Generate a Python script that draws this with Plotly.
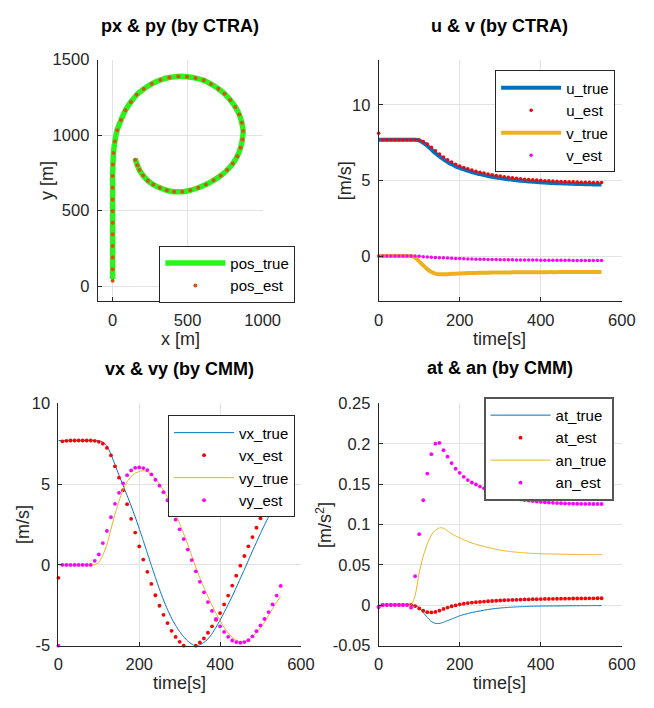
import plotly.graph_objects as go

# ---------------- data ----------------
t = [0, 10, 20, 30, 40, 50, 60, 70, 80, 90,
     100, 110, 120, 130, 140, 150, 160, 170, 180, 190,
     200, 210, 220, 230, 240, 250, 260, 270, 280, 290,
     300, 310, 320, 330, 340, 350, 360, 370, 380, 390,
     400, 410, 420, 430, 440, 450, 460, 470, 480, 490,
     500, 510, 520, 530, 540, 550]

# trajectory (px & py)
px_est = [0, 0, 0, 0, 0, 0, 0, 0, 0, 0,
          2, 6, 15, 30, 56, 85, 122, 160, 207, 261,
          318, 378, 438, 496, 553, 607, 656, 705, 746, 784,
          818, 844, 861, 870, 865, 853, 831, 801, 763, 720,
          673, 622, 571, 517, 464, 410, 361, 314, 271, 235,
          203, 179, 165, 150]
py_est = [36, 113, 190, 267, 344, 421, 498, 575, 652, 729,
          806, 882, 959, 1032, 1100, 1165, 1220, 1267, 1306, 1340,
          1365, 1382, 1389, 1387, 1378, 1363, 1338, 1308, 1274, 1233,
          1186, 1137, 1083, 1028, 972, 917, 861, 812, 769, 731,
          701, 673, 652, 635, 626, 626, 635, 652, 673, 699,
          733, 769, 801, 838]
px_true = [0, 0, 0, 0, 0, 0, 0, 0, 0, 0,
           2, 6, 15, 30, 56, 85, 122, 160, 207, 261,
           318, 378, 438, 496, 553, 607, 656, 705, 746, 784,
           818, 844, 861, 870, 865, 853, 831, 801, 763, 720,
           673, 622, 571, 517, 464, 410, 361, 314, 271, 235,
           203, 179, 165, 150]
py_true = [48, 113, 190, 267, 344, 421, 498, 575, 652, 729,
           806, 882, 959, 1032, 1100, 1165, 1220, 1267, 1306, 1340,
           1365, 1382, 1389, 1387, 1378, 1363, 1338, 1308, 1274, 1233,
           1186, 1137, 1083, 1028, 972, 917, 861, 812, 769, 731,
           701, 673, 652, 635, 626, 626, 635, 652, 673, 699,
           733, 769, 801, 845]

# u & v (CTRA)
u_true = [7.7, 7.7, 7.7, 7.7, 7.7, 7.7, 7.7, 7.7, 7.7, 7.7,
          7.65, 7.5, 7.3, 7.05, 6.8, 6.6, 6.4, 6.22, 6.07, 5.94,
          5.83, 5.73, 5.64, 5.56, 5.49, 5.42, 5.36, 5.3, 5.25, 5.2,
          5.16, 5.12, 5.08, 5.05, 5.02, 4.99, 4.96, 4.94, 4.92, 4.9,
          4.88, 4.86, 4.85, 4.83, 4.82, 4.81, 4.8, 4.79, 4.78, 4.77,
          4.76, 4.75, 4.75, 4.74, 4.74, 4.73]
u_est = [8.12, 7.7, 7.7, 7.7, 7.7, 7.7, 7.7, 7.7, 7.7, 7.7,
         7.68, 7.58, 7.42, 7.2, 6.97, 6.76, 6.56, 6.38, 6.22, 6.08,
         5.96, 5.86, 5.77, 5.69, 5.62, 5.55, 5.49, 5.43, 5.38, 5.33,
         5.29, 5.25, 5.21, 5.18, 5.15, 5.12, 5.09, 5.07, 5.05, 5.03,
         5.01, 4.99, 4.98, 4.96, 4.95, 4.94, 4.93, 4.92, 4.91, 4.9,
         4.89, 4.88, 4.88, 4.87, 4.87, 4.86]
v_true = [0, 0, 0, 0, 0, 0, 0, 0, 0, -0.1,
          -0.35, -0.62, -0.87, -1.05, -1.16, -1.21, -1.21, -1.2, -1.18, -1.17,
          -1.15, -1.14, -1.13, -1.12, -1.115, -1.11, -1.105, -1.1, -1.095, -1.09,
          -1.09, -1.085, -1.085, -1.08, -1.08, -1.08, -1.075, -1.075, -1.075, -1.07,
          -1.07, -1.07, -1.065, -1.065, -1.065, -1.06, -1.06, -1.06, -1.06, -1.06,
          -1.055, -1.055, -1.05, -1.05, -1.05, -1.05]
v_est = [0, 0, 0, 0, 0, 0, 0, 0, 0, 0,
         -0.02, -0.04, -0.06, -0.08, -0.1, -0.11, -0.12, -0.135, -0.15, -0.16,
         -0.17, -0.18, -0.19, -0.2, -0.205, -0.21, -0.22, -0.225, -0.23, -0.235,
         -0.24, -0.245, -0.25, -0.253, -0.256, -0.26, -0.263, -0.265, -0.268, -0.27,
         -0.272, -0.274, -0.276, -0.278, -0.28, -0.282, -0.284, -0.286, -0.288, -0.29,
         -0.292, -0.294, -0.296, -0.297, -0.298, -0.3]

# vx & vy (CMM)
vx_true = [7.7, 7.7, 7.7, 7.7, 7.7, 7.7, 7.7, 7.7, 7.7, 7.7,
           7.68, 7.6, 7.38, 6.85, 6.2, 5.55, 4.93, 4.3, 3.65, 2.97,
           2.25, 1.5, 0.73, -0.03, -0.78, -1.5, -2.17, -2.77, -3.3, -3.75,
           -4.13, -4.45, -4.72, -4.9, -5.0, -4.95, -4.8, -4.58, -4.26, -3.86,
           -3.42, -2.95, -2.45, -1.95, -1.4, -0.85, -0.3, 0.28, 0.85, 1.4,
           1.95, 2.48, 2.98, 3.48, 3.95, 4.35]
vx_est = [-0.8, 7.65, 7.68, 7.7, 7.7, 7.7, 7.7, 7.7, 7.7, 7.68,
          7.62, 7.5, 7.24, 6.78, 6.1, 5.4, 4.62, 3.76, 2.85, 2.0,
          1.14, 0.33, -0.43, -1.18, -1.88, -2.53, -3.09, -3.6, -4.08, -4.46,
          -4.76, -5.0, -5.13, -5.12, -5.0, -4.8, -4.55, -4.2, -3.8, -3.4,
          -2.98, -2.45, -1.9, -1.28, -0.67, -0.05, 0.55, 1.15, 1.72, 2.3,
          2.88, 3.45, 4.0, 4.5, 4.95, 5.35]
vy_true = [0, 0, 0, 0, 0, 0, 0, 0, 0, 0.02,
           0.15, 0.6, 1.25, 2.2, 3.15, 3.95, 4.65, 5.15, 5.48, 5.68,
           5.78, 5.83, 5.78, 5.6, 5.32, 5.0, 4.62, 4.18, 3.7, 3.15,
           2.55, 1.92, 1.27, 0.55, -0.15, -0.8, -1.4, -1.95, -2.5, -3.0,
           -3.45, -3.88, -4.22, -4.48, -4.66, -4.76, -4.76, -4.65, -4.45, -4.2,
           -3.9, -3.55, -3.12, -2.7, -2.3, -1.95]
vy_est = [-5.0, 0, 0, 0, 0, 0, 0, 0, 0, 0.25,
          0.65, 1.35, 2.1, 2.95, 3.78, 4.46, 5.05, 5.55, 5.85, 6.01,
          6.03, 5.99, 5.87, 5.6, 5.27, 4.9, 4.5, 4.0, 3.45, 2.8,
          2.2, 1.6, 0.95, 0.3, -0.4, -1.05, -1.7, -2.3, -2.85, -3.35,
          -3.8, -4.15, -4.45, -4.68, -4.78, -4.82, -4.78, -4.66, -4.42, -4.1,
          -3.75, -3.35, -2.92, -2.45, -1.9, -1.3]

# at & an (CMM)
at_true = [0, 0, 0, 0, 0, 0, 0, 0, 0, 0,
           -0.003, -0.009, -0.015, -0.02, -0.0225, -0.0225, -0.021, -0.019, -0.017, -0.015,
           -0.013, -0.0115, -0.0102, -0.009, -0.008, -0.007, -0.006, -0.0052, -0.0045, -0.0039,
           -0.0034, -0.003, -0.0026, -0.0023, -0.002, -0.0018, -0.0016, -0.0014, -0.0012, -0.0011,
           -0.001, -0.0009, -0.0009, -0.0008, -0.0008, -0.0007, -0.0007, -0.0006, -0.0006, -0.0006,
           -0.0005, -0.0005, -0.0005, -0.0004, -0.0004, -0.0004]
at_est = [-0.002, 0.0005, 0.0005, 0.0005, 0.0005, 0.0005, 0.0005, 0.0005, 0.0005, -0.001,
          -0.004, -0.0068, -0.0085, -0.0088, -0.0083, -0.0065, -0.0045, -0.0028, -0.0012, 0.0,
          0.0012, 0.002, 0.0027, 0.0033, 0.0038, 0.0042, 0.0046, 0.005, 0.0053, 0.0056,
          0.0059, 0.0062, 0.0064, 0.0066, 0.0068, 0.007, 0.0072, 0.0073, 0.0075, 0.0076,
          0.0077, 0.0078, 0.0079, 0.008, 0.0081, 0.0082, 0.0082, 0.0083, 0.0084, 0.0084,
          0.0085, 0.0085, 0.0086, 0.0086, 0.0087, 0.0087]
an_true = [0, 0, 0, 0, 0, 0, 0, 0, 0, 0.012,
           0.04, 0.061, 0.076, 0.087, 0.093, 0.0958, 0.0955, 0.092, 0.0885, 0.0857,
           0.0835, 0.081, 0.079, 0.077, 0.0755, 0.074, 0.0727, 0.0715, 0.0703, 0.0692,
           0.0683, 0.0675, 0.0668, 0.0662, 0.0657, 0.0653, 0.0649, 0.0645, 0.0642, 0.064,
           0.0638, 0.0637, 0.0636, 0.0635, 0.0634, 0.0633, 0.0632, 0.0631, 0.063, 0.0629,
           0.0629, 0.0628, 0.0628, 0.0627, 0.0627, 0.0627]
an_est = [-0.002, 0.0005, 0.0005, 0.0005, 0.0005, 0.0005, 0.0005, 0.0005, -0.003, 0.036,
          0.088, 0.13, 0.163, 0.187, 0.2, 0.201, 0.192, 0.184, 0.176, 0.169,
          0.164, 0.159, 0.155, 0.152, 0.1495, 0.147, 0.1448, 0.1428, 0.1395, 0.138,
          0.1366, 0.1353, 0.1341, 0.133, 0.132, 0.1311, 0.1303, 0.1296, 0.129, 0.1284,
          0.1279, 0.1275, 0.1271, 0.1268, 0.1265, 0.1263, 0.1261, 0.1259, 0.1258, 0.1257,
          0.1256, 0.1255, 0.1255, 0.1254, 0.1254, 0.1254]

# ticks
x1_ticks = [0, 500, 1000]
y1_ticks = [0, 500, 1000, 1500]
time_ticks = [0, 200, 400, 600]
y2_ticks = [0, 5, 10]
y3_ticks = [-5, 0, 5, 10]
y3_text = ["-5", "0", "5", "10"]
y4_ticks = [-0.05, 0, 0.05, 0.1, 0.15, 0.2, 0.25]
y4_text = ["-0.05", "0", "0.05", "0.1", "0.15", "0.2", "0.25"]

# ---------------- style ----------------
FONT = "Liberation Sans, Arial, Helvetica, sans-serif"
AX = "#262626"
GRID = "#e3e3e3"
BLUE = "#0072BD"
ORANGE = "#EDB120"
GREEN = "#2bf31b"
RED = "#ff0000"
MAG = "#ff00ff"
POSDOT = "#D95319"

fig = go.Figure()


def add_line(x, y, name, color, width, xa, ya, leg):
    fig.add_trace(go.Scatter(x=x, y=y, mode="lines", name=name,
                             line=dict(color=color, width=width, shape="spline", smoothing=0.5),
                             xaxis=xa, yaxis=ya, legend=leg))


def add_dots(x, y, name, color, size, xa, ya, leg):
    fig.add_trace(go.Scatter(x=x, y=y, mode="markers", name=name,
                             marker=dict(color=color, size=size, line=dict(width=0)),
                             cliponaxis=False, xaxis=xa, yaxis=ya, legend=leg))


add_line(px_true, py_true, "pos_true", GREEN, 5.5, "x", "y", "legend")
add_dots(px_est, py_est, "pos_est", POSDOT, 4, "x", "y", "legend")

add_line(t, u_true, "u_true", BLUE, 4, "x2", "y2", "legend2")
add_dots(t, u_est, "u_est", RED, 3.5, "x2", "y2", "legend2")
add_line(t, v_true, "v_true", ORANGE, 4, "x2", "y2", "legend2")
add_dots(t, v_est, "v_est", MAG, 3.5, "x2", "y2", "legend2")

add_line(t, vx_true, "vx_true", BLUE, 1, "x3", "y3", "legend3")
add_dots(t, vx_est, "vx_est", RED, 3.8, "x3", "y3", "legend3")
add_line(t, vy_true, "vy_true", ORANGE, 1, "x3", "y3", "legend3")
add_dots(t, vy_est, "vy_est", MAG, 3.8, "x3", "y3", "legend3")

add_line(t, at_true, "at_true", BLUE, 1, "x4", "y4", "legend4")
add_dots(t, at_est, "at_est", RED, 3.8, "x4", "y4", "legend4")
add_line(t, an_true, "an_true", ORANGE, 1, "x4", "y4", "legend4")
add_dots(t, an_est, "an_est", MAG, 3.8, "x4", "y4", "legend4")


def axis(domain, rng, tickvals, anchor, ticktext=None):
    d = dict(domain=domain, range=rng, tickvals=tickvals, anchor=anchor,
             showgrid=True, gridcolor=GRID, gridwidth=1, zeroline=False,
             showline=True, linecolor=AX, linewidth=1, mirror=False,
             ticks="inside", ticklen=4, tickcolor=AX, tickwidth=1,
             tickfont=dict(family=FONT, size=16.5, color=AX),
             ticklabelstandoff=4, fixedrange=True)
    if ticktext is not None:
        d["ticktext"] = ticktext
    return d


XL = [0.1468, 0.4083]
XR = [0.5922, 0.9775]
XL3 = [0.0846, 0.4690]
YT = [0.5763, 0.9266]
YB = [0.0773, 0.4285]

layout_axes = dict(
    xaxis=axis(XL, [-100, 1000], x1_ticks, "y"),
    yaxis=axis(YT, [-100, 1500], y1_ticks, "x"),
    xaxis2=axis(XR, [0, 600], time_ticks, "y2"),
    yaxis2=axis(YT, [-3, 13], y2_ticks, "x2"),
    xaxis3=axis(XL3, [0, 600], time_ticks, "y3"),
    yaxis3=axis(YB, [-5, 10], y3_ticks, "x3", y3_text),
    xaxis4=axis(XR, [0, 600], time_ticks, "y4"),
    yaxis4=axis(YB, [-0.05, 0.25], y4_ticks, "x4", y4_text),
)


def legend(x, y, border="#262626", bw=1):
    return dict(x=x, y=y, xanchor="left", yanchor="top", bgcolor="white",
                bordercolor=border, borderwidth=bw, tracegroupgap=0,
                itemwidth=60,
                font=dict(family=FONT, size=15, color="#000000"))


W, H = 654, 708


def ann(text, xp, yp, size=18, bold=False, angle=0):
    return dict(text=("<b>%s</b>" % text) if bold else text,
                x=xp / W, y=1 - yp / H, xref="paper", yref="paper",
                xanchor="center", yanchor="middle", showarrow=False,
                textangle=angle,
                font=dict(family=FONT, size=size, color="#000000" if bold else AX))


annotations = [
    ann("px &amp; py (by CTRA)", 181.5, 17, 18, True),
    ann("u &amp; v (by CTRA)", 513, 17, 18, True),
    ann("vx &amp; vy (by CMM)", 181, 369, 18, True),
    ann("at &amp; an (by CMM)", 513, 368, 18, True),
    ann("x [m]", 181.5, 339),
    ann("time[s]", 513, 339),
    ann("time[s]", 181, 691.5),
    ann("time[s]", 513, 691.5),
    ann("y [m]", 43, 176, angle=-90),
    ann("[m/s]", 352, 176, angle=-90),
    ann("[m/s]", 18, 529, angle=-90),
    ann("[m/s<sup>2</sup>]", 331, 529, angle=-90),
]

fig.update_layout(
    width=W, height=H, autosize=False,
    margin=dict(l=0, r=0, t=0, b=0),
    paper_bgcolor="white", plot_bgcolor="white",
    showlegend=True,
    legend=legend(160 / W, 1 - 243 / H),
    legend2=legend(508 / W, 1 - 63 / H),
    legend3=legend(169 / W, 1 - 417 / H),
    legend4=legend(496 / W, 1 - 398 / H, "#555555", 2),
    annotations=annotations,
    **layout_axes,
)

fig.write_html("out.html")
